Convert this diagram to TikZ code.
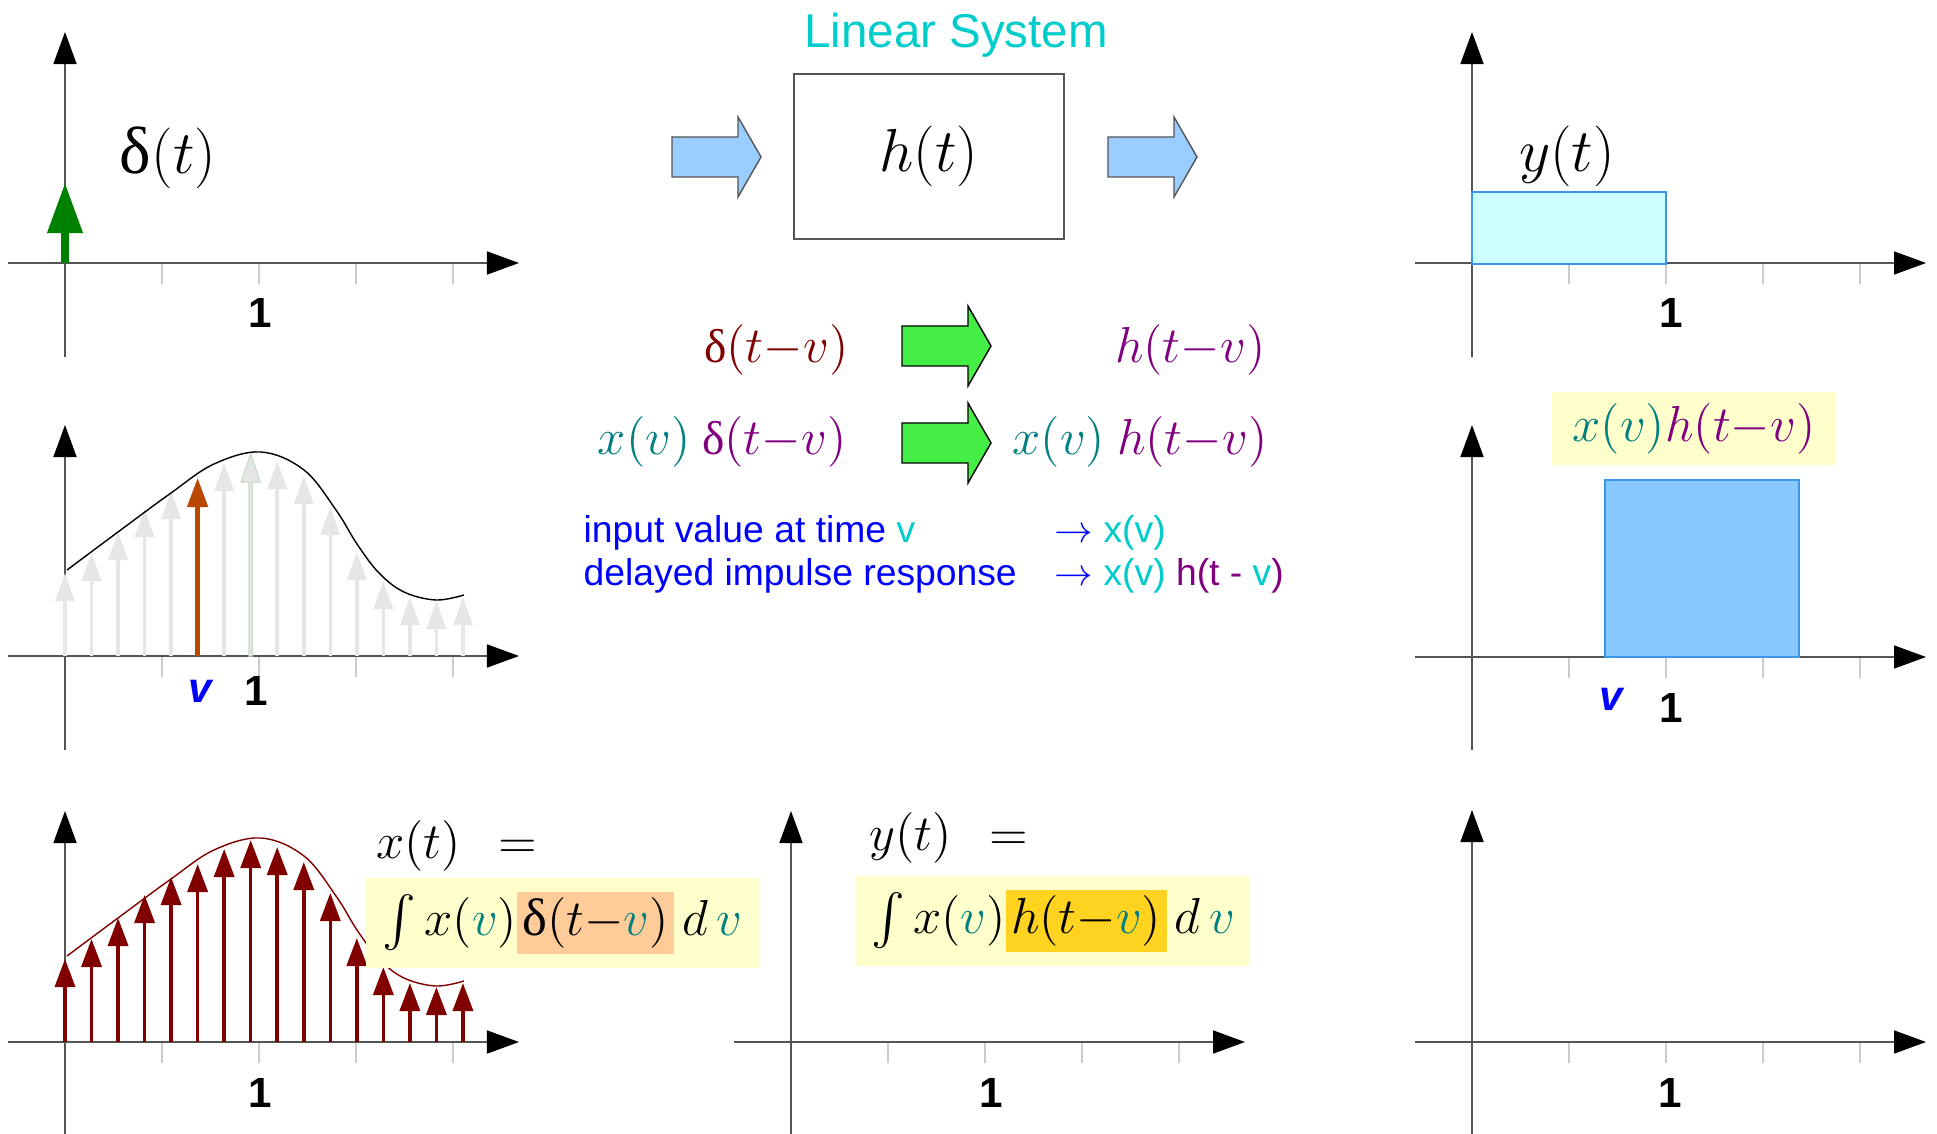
\documentclass[tikz,border=0pt]{standalone}
\usepackage{amsmath}
\usepackage{fontspec}
\setmainfont{Liberation Serif}
\setsansfont{Liberation Sans}
\usetikzlibrary{arrows.meta,positioning}
\definecolor{axisgray}{HTML}{555555}
\definecolor{tickgray}{HTML}{CCCCCC}
\definecolor{syscyan}{HTML}{00CCCC}
\definecolor{xteal}{HTML}{008080}
\definecolor{hpurple}{HTML}{800080}
\definecolor{dred}{HTML}{800000}
\definecolor{vblue}{HTML}{0000FF}
\definecolor{impgreen}{HTML}{008000}
\definecolor{fatgreencol}{HTML}{44EE44}
\definecolor{fatbluecol}{HTML}{99CCFF}
\definecolor{ycyan}{HTML}{CCFFFF}
\definecolor{rectblue}{HTML}{3C96E6}
\definecolor{xhblue}{HTML}{87C9FF}
\definecolor{boxyellow}{HTML}{FFFFCC}
\definecolor{hlorange}{HTML}{FFCC99}
\definecolor{hlgold}{HTML}{FFD320}
\definecolor{vorange}{HTML}{B94700}
\definecolor{stemgray}{HTML}{E6E6E6}
\definecolor{stemedge}{HTML}{C5DCC5}
\newcommand{\dlt}{\textrm{δ}}
\newcommand{\fsz}[1]{\fontsize{#1}{#1}\selectfont}

\begin{document}
\begin{tikzpicture}[x=0.01cm, y=-0.01cm,
  axisline/.style={draw=axisgray, line width=0.45pt,
                   -{Triangle[length=3.2mm,width=2.3mm,color=black]}},
  tickmark/.style={draw=tickgray, line width=0.5pt},
  unitlab/.style={font=\fsz{12}\sffamily\bfseries, anchor=base, inner sep=0pt},
  vlab/.style={font=\fsz{12}\sffamily\bfseries\itshape, text=vblue, anchor=base, inner sep=0pt},
  graystem/.style={draw=stemgray, line width=1pt, -{Triangle[length=2.8mm,width=1.9mm]}},
  redstem/.style={draw=dred, line width=1pt, -{Triangle[length=2.8mm,width=2mm]}},
  fatblue/.style={fill=fatbluecol, draw=axisgray, line width=0.4pt},
  fatgreen/.style={fill=fatgreencol},
  bigmath/.style={font=\fsz{19}, anchor=base, inner sep=0pt},
  midmath/.style={font=\fsz{13.5}, inner sep=0pt},
  note/.style={font=\fsz{10.6}\sffamily, text=vblue, anchor=base west, inner sep=0pt},
  intbox/.style={fill=boxyellow, minimum width=3.93cm, minimum height=0.9cm,
                 font=\fsz{15}, inner sep=0pt},
  sysbox/.style={draw=axisgray, line width=0.5pt, minimum width=2.7cm,
                 minimum height=1.65cm, font=\fsz{18}}]

  \useasboundingbox (0,0) rectangle (1937,1134);

  % axes of the seven panels
  \foreach \ox/\oy/\ytop/\ybot/\lx/\ly [count=\k] in
    {65/263/32/357/260/328, 1472/263/32/357/1671/328,
     65/656/425/750/256/705, 1472/657/425/750/1671/722,
     65/1042/811/1134/260/1107, 791/1042/811/1134/991/1107,
     1472/1042/810/1134/1670/1107} {
    \foreach \t in {1,...,4} \draw[tickmark] (\ox+97*\t,\oy) -- ++(0,21);
    \draw[axisline] (\ox-57,\oy) -- (\ox+454,\oy);
    \draw[axisline] (\ox,\ybot) -- (\ox,\ytop);
    \node[unitlab] (one\k) at (\lx,\ly) {1};
  }

  % impulse and system
  \draw[draw=impgreen, line width=2pt, -{Triangle[length=5mm,width=3.4mm]}] (65,263) -- (65,183);
  \node[bigmath] (dlab) at (168,174) {$\dlt(t)$};
  \node[font=\fsz{13.5}\sffamily, text=syscyan, anchor=base, inner sep=0pt] (title) at (956,48) {Linear System};
  \node[sysbox] (sys) at (929,156.5) {$h(t)$};
  \foreach \ax/\ay/\sty in {672/157/fatblue, 1108/157/fatblue, 902/346/fatgreen, 902/443/fatgreen}
    \draw[\sty] (\ax,\ay-20) -- ++(66,0) -- ++(0,-20) -- (\ax+89,\ay)
      -- (\ax+66,\ay+40) -- ++(0,-20) -- (\ax,\ay+20) -- cycle;

  % output
  \draw[fill=ycyan, draw=rectblue, line width=0.5pt] (1472,192) rectangle (1666,264);
  \node[bigmath] (ylab) at (1567,172) {$y(t)$};

  % shifted impulse
  \node[midmath, anchor=base east, text=dred] (dshift) at (849,363) {$\dlt(t{-}v)$};
  \node[midmath, anchor=base east, text=hpurple] (hshift) at (1266,363) {$h(t{-}v)$};
  \node[midmath, anchor=base east] (xdshift) at (847,455)
    {$\textcolor{xteal}{x(v)}\ \textcolor{hpurple}{\dlt(t{-}v)}$};
  \node[midmath, anchor=base east] (xhshift) at (1268,455)
    {$\textcolor{xteal}{x(v)}\ \textcolor{hpurple}{h(t{-}v)}$};
  \node[note] (inval) at (583,543) {input value at time \textcolor{syscyan}{v}};
  \node[note] (delay) at (583,585) {delayed impulse response};
  \node[note] (inmap) at (1054,543) {$\rightarrow$ \textcolor{syscyan}{x(v)}};
  \node[note] (delmap) at (1054,585)
    {$\rightarrow$ \textcolor{syscyan}{x(v)} \textcolor{hpurple}{h(t - \textcolor{syscyan}{v})}};

  % sampled input
  \foreach \h [count=\i from 0] in {83,103,124,147,165,178,193,202,195,180,149,104,75,59,55,59} {
    \draw[graystem] (65+26.53*\i,656) -- ++(0,-\h);
    \draw[redstem] (65+26.53*\i,1042) -- ++(0,-\h);
  }
  \draw[draw=vorange, line width=1.3pt, -{Triangle[length=2.9mm,width=2mm]}] (197.6,656) -- (197.6,478);
  \filldraw[fill=stemgray, draw=stemedge, line width=0.3pt] (249,656) -- (249,482) -- (241.2,482)
    -- (250.7,454) -- (260.2,482) -- (252.4,482) -- (252.4,656) -- cycle;
  \foreach \oy/\col in {656/black, 1042/dred} {
    \begin{scope}[shift={(0,\oy)}]
      \draw[draw=\col, line width=0.4pt] plot[smooth, tension=0.6] coordinates
        {(67,-86) (118,-124) (171,-163) (214,-192) (261,-204) (304,-186)
         (336,-146) (357,-112) (379,-83) (404,-64) (436,-56) (464,-61)};
    \end{scope}
  }
  \node[vlab] (vmid) at (200,702) {v};

  % weighted response
  \draw[fill=xhblue, draw=rectblue, line width=0.5pt] (1605,480) rectangle (1799,657);
  \node[fill=boxyellow, minimum width=2.84cm, minimum height=0.73cm, font=\fsz{13.5}, inner sep=0pt]
    (xhlab) at (1694,428.5) {$\textcolor{xteal}{x(v)}\textcolor{hpurple}{h(t{-}v)}$};
  \node[vlab] (vright) at (1611,710) {v};

  % superposition
  \node[midmath, anchor=base] (xeq) at (457,858) {$x(t)\ \ =$};
  \node[intbox] (xint) at (562.5,923)
    {\setlength{\fboxsep}{1.5pt}$\int x(\textcolor{xteal}{v})\colorbox{hlorange}{$\dlt(t{-}\textcolor{xteal}{v})$}\,d\,\textcolor{xteal}{v}$};
  \node[midmath, anchor=base] (yeq) at (949,850) {$y(t)\ \ =$};
  \node[intbox] (yint) at (1053,921)
    {\setlength{\fboxsep}{1.5pt}$\int x(\textcolor{xteal}{v})\colorbox{hlgold}{$h(t{-}\textcolor{xteal}{v})$}\,d\,\textcolor{xteal}{v}$};
\end{tikzpicture}
\end{document}
